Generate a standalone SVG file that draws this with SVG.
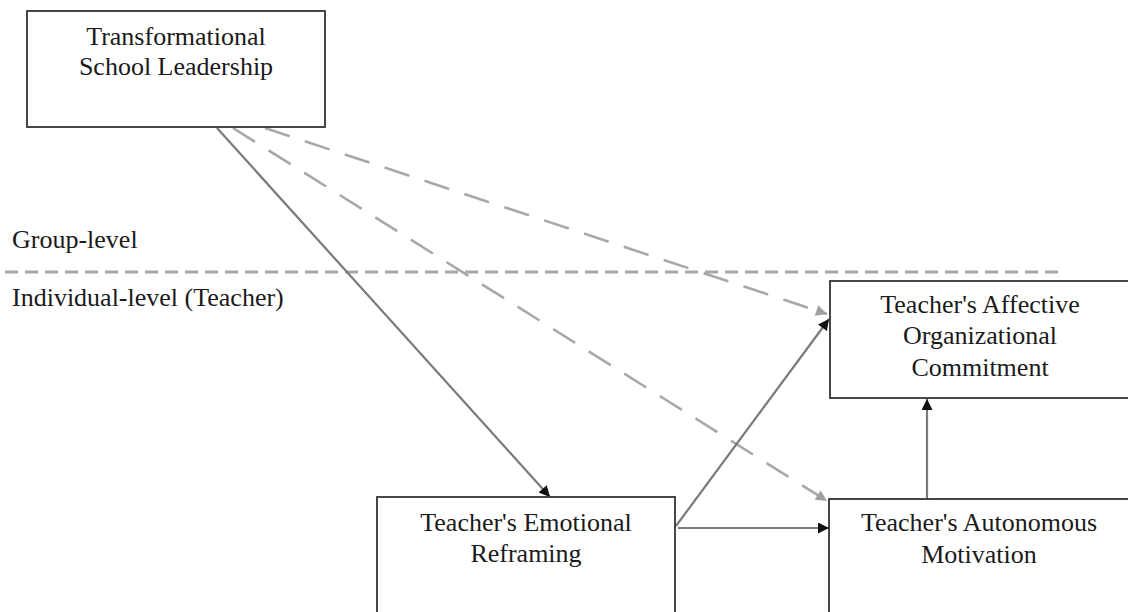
<svg xmlns="http://www.w3.org/2000/svg" width="1128" height="612" viewBox="0 0 1128 612">
<style>
.box{fill:#fff;stroke:#333;stroke-width:1.8}
text{font-family:'Liberation Serif','DejaVu Serif',serif;font-size:26px;fill:#1a1a1a}
.c{text-anchor:middle}
.solid{stroke:#7a7a7a;stroke-width:2.2;fill:none}
.dash{stroke:#a8a8a8;stroke-width:2.6;fill:none;stroke-dasharray:26 16}
</style>
<defs>
<marker id="ab" viewBox="0 0 10 10" refX="10" refY="5" markerWidth="13" markerHeight="11" markerUnits="userSpaceOnUse" orient="auto"><path d="M0,0L10,5L0,10z" fill="#111"/></marker>
<marker id="ag" viewBox="0 0 10 10" refX="10" refY="5" markerWidth="14" markerHeight="11" markerUnits="userSpaceOnUse" orient="auto"><path d="M0,0L10,5L0,10z" fill="#a0a0a0"/></marker>
</defs>
<rect width="1128" height="612" fill="#fff"/>
<g id="levels">
<line x1="5" y1="272" x2="1060" y2="272" stroke="#a8a8a8" stroke-width="3" stroke-dasharray="13 7"/>
<text x="12" y="248" font-family="Liberation Serif, serif">Group-level</text>
<text x="12" y="306" font-family="Liberation Serif, serif">Individual-level (Teacher)</text>
</g>
<g id="connectors">
<line class="solid" x1="217" y1="128" x2="550" y2="497" marker-end="url(#ab)"/>
<line class="dash" x1="265" y1="128" x2="827" y2="314" marker-end="url(#ag)"/>
<line class="dash" x1="233" y1="128" x2="827" y2="501" marker-end="url(#ag)"/>
<line class="solid" x1="676" y1="526" x2="829" y2="319" marker-end="url(#ab)"/>
<line class="solid" x1="678" y1="528" x2="829" y2="528" marker-end="url(#ab)"/>
<line class="solid" x1="927" y1="499" x2="927" y2="399" marker-end="url(#ab)"/>
</g>
<g id="leadership">
<rect class="box" x="27" y="11" width="298" height="116"/>
<text class="c" x="176" y="45">Transformational</text>
<text class="c" x="176" y="75">School Leadership</text>
</g>
<g id="reframing">
<rect class="box" x="377" y="497" width="298" height="130"/>
<text class="c" x="526" y="531">Teacher's Emotional</text>
<text class="c" x="526" y="562">Reframing</text>
</g>
<g id="commitment">
<rect class="box" x="830" y="281" width="310" height="117"/>
<text class="c" x="980" y="313">Teacher's Affective</text>
<text class="c" x="980" y="344">Organizational</text>
<text class="c" x="980" y="376">Commitment</text>
</g>
<g id="motivation">
<rect class="box" x="829" y="499" width="310" height="130"/>
<text class="c" x="979" y="531">Teacher's Autonomous</text>
<text class="c" x="979" y="563">Motivation</text>
</g>
</svg>
